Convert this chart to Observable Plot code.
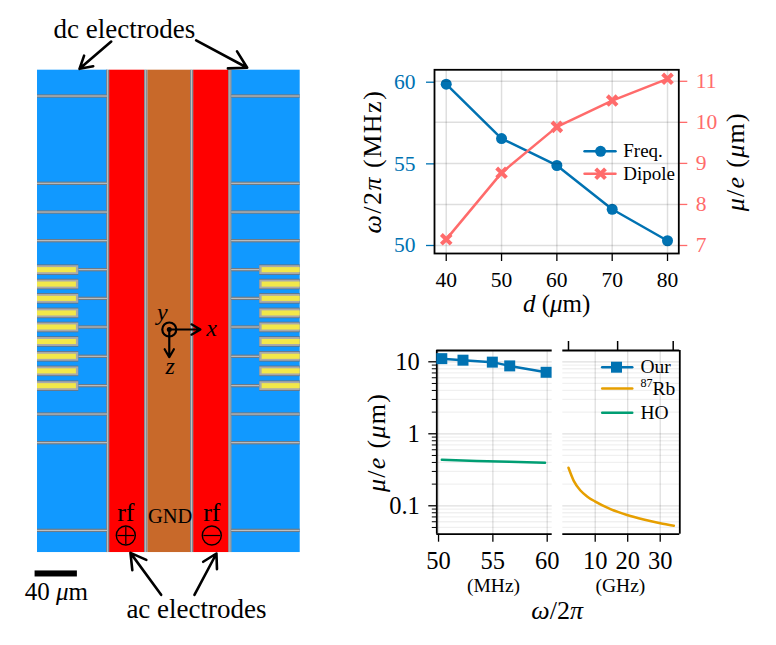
<!DOCTYPE html>
<html><head><meta charset="utf-8">
<script src="https://cdn.jsdelivr.net/npm/d3@7"></script>
<script src="https://cdn.jsdelivr.net/npm/@observablehq/plot@0.6"></script>
<style>
html,body{margin:0;padding:0;background:#fff;}
#page{position:relative;width:776px;height:645px;overflow:hidden;}
#page svg{position:absolute;left:0;top:0;background:transparent!important;max-width:none!important;font-family:"Liberation Serif",serif!important;overflow:visible;}
.wide text{letter-spacing:1.3px;}
.wider text{letter-spacing:1.5px;}
</style></head><body><div id="page"></div>
<script>
// ---- Device layout, micrometres from the trap centre ----
const dcColumns=[[-124.6,-58.4],[59,123.8]];
const rfColumns=[[-56.5,-23.2],[23,56.5]];
const gndColumn=[[-20.3,20.3]];
const columnGaps=[-57.8,-21.8,21.6,57.8];
const deviceZ=[-245.2,210.9];
const fullGaps=[-220.3,-137.8,-110.6,-83.5,80.4,107.5,190.4];
const tetherGaps=[-56.1,-29,-1.9,25.8,53.6];
const fingerZ=[-56.1,-42.5,-29,-15.2,-1.9,11.8,25.8,39.6,53.6];
const fingerSpans=[[-124.6,-85.6],[85.6,123.8]];
const yellowSpans=[[-124.6,-87.8],[87.8,123.8]];
const tetherSpans=[[-85.6,-58.4],[59,85.6]];
const scaleBar=[[-126.9,-86.9,228.3,234]];
const arrowsDc=[[-54.9,-272.3,-84.9,-246.5],[25.4,-273.3,73.7,-247.5]];
const arrowsAc=[[-7.7,250.9,-36.7,211.2],[23.8,250.9,44.6,211.8]];
const rfSigns=[[-41.1,194.8],[40.2,194.8]];
// ---- Top chart ----
const sepD=[40,50,60,70,80];
const freqMHz=[59.88,56.55,54.9,52.22,50.29];
const dipoleUm=[7.15,8.77,9.89,10.53,11.06];
const freqTicks=[50,55,60];
const dipoleTicks=[7,8,9,10,11];
// ---- Bottom chart ----
const ourF=[50.3,52.25,54.95,56.55,59.9];
const ourDipole=[11.06,10.53,9.89,8.77,7.15];
const hoF=[50.3,53.5,56.5,59.8];
const hoDipole=[0.435,0.42,0.408,0.395];
const rbF=[1.78,3.4,5.47,7.5,9.9,14.7,19.8,24.9,30,34.2];
const rbDipole=[0.337,0.222,0.163,0.135,0.115,0.09,0.0745,0.0645,0.0573,0.0527];
const logMajor=[0.1,1,10];
const logMinor=[0.05,0.06,0.07,0.08,0.09,0.2,0.3,0.4,0.5,0.6,0.7,0.8,0.9,2,3,4,5,6,7,8,9];
const mhzTicks=[50,55,60];
const ghzTicks=[10,20,30];
const topTicks=[1.78,16.9,34];

const BLUE="#0072B2",PINK="#FF6B6B",ORANGE="#E69F00",GREEN="#009E73";
const W=776,H=645,page=document.getElementById("page");

function rich(svg){
  svg.querySelectorAll("text").forEach(t=>{
    const s=t.textContent;
    if(!/[*^]/.test(s)) return;
    t.textContent="";
    let after=false;
    s.split(/(\*[^*]+\*|\^[^^]+\^)/).filter(Boolean).forEach(p=>{
      const n=document.createElementNS("http://www.w3.org/2000/svg","tspan");
      if(p[0]==="*"){n.textContent=p.slice(1,-1);n.setAttribute("font-style","italic");}
      else if(p[0]==="^"){n.textContent=p.slice(1,-1);n.setAttribute("font-size","0.62em");n.setAttribute("dy","-0.6em");after=true;}
      else{n.textContent=p;if(after){n.setAttribute("dy","0.37em");after=false;}}
      t.appendChild(n);
    });
  });
  page.appendChild(svg);
}
const base={width:W,height:H,style:{background:"transparent"}};
const mid={textAnchor:"middle",lineAnchor:"middle",text:d=>d};

// ---- Device ----
const grayRects=(spans,zs,half)=>spans.flatMap(s=>zs.map(z=>({x1:s[0],x2:s[1],y1:z-half,y2:z+half})));
const colRect=(a)=>a.map(s=>({x1:s[0],x2:s[1],y1:deviceZ[0],y2:deviceZ[1]}));
const vert=(half)=>columnGaps.map(x=>({x1:x-half,x2:x+half,y1:deviceZ[0],y2:deviceZ[1]}));
const R=(d,o)=>Plot.rect(d,{x1:"x1",x2:"x2",y1:"y1",y2:"y2",...o});
rich(Plot.plot({...base,margin:0,
  x:{domain:[-159.6,574.2],axis:null},
  y:{domain:[-311.1,298.8],range:[0,645],axis:null},
  marks:[
    R(colRect(dcColumns),{fill:"#1199FF"}),
    R(colRect(rfColumns),{fill:"#FF0000"}),
    R(colRect(gndColumn),{fill:"#C8692A"}),
    R(vert(1.5),{fill:"#76828c"}),
    R(vert(0.45),{fill:"#c8c8c8"}),
    R(grayRects(dcColumns,fullGaps,1.6),{fill:"#6e7b87"}),
    R(grayRects(dcColumns,fullGaps,0.45),{fill:"#cccccc"}),
    R(grayRects(tetherSpans,tetherGaps,1.6),{fill:"#6e7b87"}),
    R(grayRects(tetherSpans,tetherGaps,0.45),{fill:"#cccccc"}),
    R(grayRects(fingerSpans,fingerZ,5),{fill:"#5f7286"}),
    R(grayRects(fingerSpans,fingerZ,4.2),{fill:"#aaaaaa"}),
    R(grayRects(yellowSpans,fingerZ,2.4),{fill:"#F2E84A"}),
    R(scaleBar.map(b=>({x1:b[0],x2:b[1],y1:b[2],y2:b[3]})),{fill:"black"}),
    Plot.arrow(arrowsDc.concat(arrowsAc),{x1:d=>d[0],y1:d=>d[1],x2:d=>d[2],y2:d=>d[3],stroke:"black",strokeWidth:2.6,headLength:13,headAngle:60}),
    Plot.text(["dc electrodes"],{x:-42.4,y:-284.2,fontSize:27,...mid}),
    Plot.text(["ac electrodes"],{x:25.7,y:264.3,fontSize:27,...mid}),
    Plot.text(["40 *μ*m"],{x:-106.7,y:248.3,fontSize:25,...mid}),
    Plot.text(["GND"],{x:0.8,y:176.5,fontSize:20.5,...mid}),
    Plot.text(rfSigns,{x:d=>d[0],y:173,fontSize:26,textAnchor:"middle",lineAnchor:"middle",text:()=>"rf"}),
    Plot.dot(rfSigns,{x:d=>d[0],y:d=>d[1],r:9.5,stroke:"black",strokeWidth:1.4}),
    Plot.link(rfSigns,{x1:d=>d[0]-8,x2:d=>d[0]+8,y1:d=>d[1],y2:d=>d[1],stroke:"black",strokeWidth:1.2}),
    Plot.link(rfSigns.slice(0,1),{x1:d=>d[0],x2:d=>d[0],y1:d=>d[1]-8,y2:d=>d[1]+8,stroke:"black",strokeWidth:1.2}),
    Plot.dot([[0,0]],{x:d=>d[0],y:d=>d[1],r:7,stroke:"black",strokeWidth:2.2}),
    Plot.dot([[0,0]],{x:d=>d[0],y:d=>d[1],r:2.5,fill:"black"}),
    Plot.arrow([[0,0,29.5,0],[0,0,0,26.2]],{x1:d=>d[0],y1:d=>d[1],x2:d=>d[2],y2:d=>d[3],stroke:"black",strokeWidth:2.2,headLength:9,headAngle:60}),
    Plot.text(["*x*"],{x:40,y:-1,fontSize:24,...mid}),
    Plot.text(["*z*"],{x:0.8,y:34.5,fontSize:24,...mid}),
    Plot.text(["*y*"],{x:-6.5,y:-16.5,fontSize:24,...mid})
  ]}));

// ---- Top chart, shared geometry ----
const top1={...base,marginLeft:434,marginRight:W-678.3,marginTop:69.3,marginBottom:H-253};
const xTop={domain:[37.88,82.04],axis:null};
const gridSt={stroke:"#000",strokeOpacity:0.13,strokeWidth:1.5};
rich(Plot.plot({...top1,x:xTop,y:{domain:[49.51,60.76],axis:null},marks:[
  Plot.ruleX(sepD,gridSt),
  Plot.axisX(sepD,{anchor:"bottom",tickSize:8,tickPadding:10,fontSize:21.5,label:null,strokeWidth:1.3}),
  Plot.axisY(freqTicks,{anchor:"left",tickSize:8,tickPadding:11,fontSize:21.5,label:null,color:BLUE,strokeWidth:1.3}),
  Plot.line(sepD.map((d,i)=>[d,freqMHz[i]]),{x:d=>d[0],y:d=>d[1],stroke:BLUE,strokeWidth:2.5}),
  Plot.dot(sepD.map((d,i)=>[d,freqMHz[i]]),{x:d=>d[0],y:d=>d[1],r:5.5,fill:BLUE}),
  Plot.text(["*d* (*μ*m)"],{frameAnchor:"bottom",dy:50,fontSize:25,...mid}),
  Plot.text(["*ω*/2*π* (MHz)"],{frameAnchor:"left",dx:-62,rotate:-90,fontSize:26,className:"wider",...mid})
]}));
const legendTopX=[65,70.6];
const legendTopY=[55.77,54.39];
rich(Plot.plot({...top1,x:xTop,y:{domain:[6.805,11.28],axis:null},marks:[
  Plot.ruleY(dipoleTicks,gridSt),
  Plot.axisY(dipoleTicks,{anchor:"right",tickSize:8,tickPadding:9,fontSize:21.5,label:null,color:PINK,strokeWidth:1.3}),
  Plot.line(sepD.map((d,i)=>[d,dipoleUm[i]]),{x:d=>d[0],y:d=>d[1],stroke:PINK,strokeWidth:2.5}),
  Plot.dot(sepD.map((d,i)=>[d,dipoleUm[i]]),{x:d=>d[0],y:d=>d[1],symbol:"times",r:4.5,stroke:PINK,strokeWidth:4}),
  Plot.frame({stroke:"black",strokeWidth:1.8}),
  Plot.text(["*μ*/*e* (*μ*m)"],{frameAnchor:"right",dx:57,rotate:-90,fontSize:26,className:"wide",...mid})
]}));
rich(Plot.plot({...top1,x:xTop,y:{domain:[49.51,60.76],axis:null},marks:[
  Plot.line(legendTopX.map(x=>[x,legendTopY[0]]),{x:d=>d[0],y:d=>d[1],stroke:BLUE,strokeWidth:2.5}),
  Plot.dot([[67.9,legendTopY[0]]],{x:d=>d[0],y:d=>d[1],r:5.5,fill:BLUE}),
  Plot.line(legendTopX.map(x=>[x,legendTopY[1]]),{x:d=>d[0],y:d=>d[1],stroke:PINK,strokeWidth:2.5}),
  Plot.dot([[67.9,legendTopY[1]]],{x:d=>d[0],y:d=>d[1],symbol:"times",r:4.5,stroke:PINK,strokeWidth:4}),
  Plot.text(["Freq.","Dipole"],{x:72,y:(d,i)=>legendTopY[i],text:d=>d,textAnchor:"start",fontSize:19})
]}));

// ---- Bottom chart ----
const yLog={type:"log",domain:[0.0403,14.35],axis:null};
const gridMajor={stroke:"#000",strokeOpacity:0.13,strokeWidth:1.3};
const gridMinor={stroke:"#000",strokeOpacity:0.06,strokeWidth:1.3};
const fmt=d=>String(d);
const xMHz=[49.84,60.46], xGHz=[0.03,36.03];
rich(Plot.plot({...base,marginLeft:436.3,marginRight:W-551.7,marginTop:350,marginBottom:H-533.7,
  x:{domain:xMHz,axis:null},y:yLog,marks:[
  Plot.ruleY(logMinor,gridMinor),Plot.ruleY(logMajor,gridMajor),Plot.ruleX(mhzTicks,gridMajor),
  Plot.ruleX([xMHz[0]],{stroke:"black",strokeWidth:1.8}),
  Plot.ruleY(yLog.domain,{stroke:"black",strokeWidth:1.8}),
  Plot.axisX(mhzTicks,{anchor:"bottom",tickSize:8,tickPadding:9,fontSize:24.5,label:null,strokeWidth:1.3}),
  Plot.axisY(logMajor,{anchor:"left",tickSize:8,tickPadding:9,fontSize:24.5,label:null,tickFormat:fmt,strokeWidth:1.3}),
  Plot.axisY(logMinor,{anchor:"left",tickSize:4.5,label:null,tickFormat:()=>"",strokeWidth:1}),
  Plot.line(hoF.map((d,i)=>[d,hoDipole[i]]),{x:d=>d[0],y:d=>d[1],stroke:GREEN,strokeWidth:2.5}),
  Plot.line(ourF.map((d,i)=>[d,ourDipole[i]]),{x:d=>d[0],y:d=>d[1],stroke:BLUE,strokeWidth:2.5}),
  Plot.dot(ourF.map((d,i)=>[d,ourDipole[i]]),{x:d=>d[0],y:d=>d[1],symbol:"square",r:6.2,fill:BLUE}),
  Plot.text(["(MHz)"],{x:55.06,frameAnchor:"bottom",dy:52,fontSize:19.5,...mid}),
  Plot.text(["*μ*/*e* (*μ*m)"],{frameAnchor:"left",dx:-60,rotate:-90,fontSize:26,className:"wide",...mid})
]}));
const legendX=[12.15,21.4];
const legendY=[8.41,4.26,1.96];
rich(Plot.plot({...base,marginLeft:562.3,marginRight:W-679.3,marginTop:350,marginBottom:H-533.7,
  x:{domain:xGHz,axis:null},y:yLog,marks:[
  Plot.ruleY(logMinor,gridMinor),Plot.ruleY(logMajor,gridMajor),Plot.ruleX(ghzTicks,gridMajor),
  Plot.ruleX([xGHz[1]],{stroke:"black",strokeWidth:1.8}),
  Plot.ruleY(yLog.domain,{stroke:"black",strokeWidth:1.8}),
  Plot.axisX(ghzTicks,{anchor:"bottom",tickSize:8,tickPadding:9,fontSize:24.5,label:null,strokeWidth:1.3}),
  Plot.axisX(topTicks,{anchor:"top",tickSize:10,label:null,tickFormat:()=>"",strokeWidth:1.5}),
  Plot.line(rbF.map((d,i)=>[d,rbDipole[i]]),{x:d=>d[0],y:d=>d[1],stroke:ORANGE,strokeWidth:2.5,curve:"monotone-x"}),
  Plot.line(legendX.map(x=>[x,legendY[0]]),{x:d=>d[0],y:d=>d[1],stroke:BLUE,strokeWidth:2.5}),
  Plot.dot([[16.55,legendY[0]]],{x:d=>d[0],y:d=>d[1],symbol:"square",r:6.2,fill:BLUE}),
  Plot.line(legendX.map(x=>[x,legendY[1]]),{x:d=>d[0],y:d=>d[1],stroke:ORANGE,strokeWidth:2.5}),
  Plot.line(legendX.map(x=>[x,legendY[2]]),{x:d=>d[0],y:d=>d[1],stroke:GREEN,strokeWidth:2.5}),
  Plot.text(["Our","^87^Rb","HO"],{x:23.9,y:(d,i)=>legendY[i],text:d=>d,textAnchor:"start",fontSize:19.5}),
  Plot.text(["(GHz)"],{x:17.75,frameAnchor:"bottom",dy:52,fontSize:19.5,...mid}),
  Plot.text(["*ω*/2*π*"],{x:-1.7,frameAnchor:"bottom",dy:76,fontSize:26,...mid})
]}));
</script></body></html>
